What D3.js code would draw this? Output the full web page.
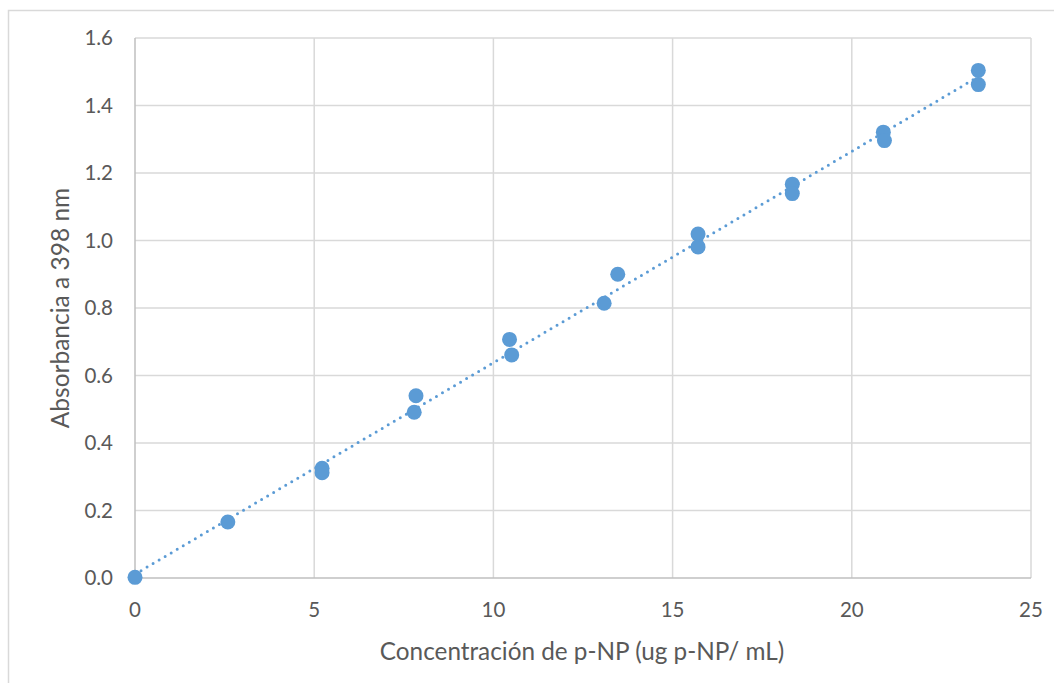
<!DOCTYPE html>
<html><head><meta charset="utf-8">
<script src="https://cdn.jsdelivr.net/npm/d3@7"></script>
<style>
html,body{margin:0;padding:0;background:#fff;}
svg{display:block;}
text{font-family:"Lato","Open Sans",sans-serif;fill:#595959;}
</style></head>
<body>
<svg id="c" width="1054" height="683"></svg>
<script>
const concentrations = [0, 2.59, 5.22, 5.22, 7.84, 7.79, 10.45, 10.51, 13.09, 13.47, 15.71, 15.71, 18.34, 18.34, 20.88, 20.91, 23.53, 23.53];
const absorbance =     [0.002, 0.166, 0.325, 0.312, 0.540, 0.491, 0.707, 0.661, 0.814, 0.900, 1.019, 0.981, 1.167, 1.139, 1.321, 1.296, 1.504, 1.462];
const xTicks = [0, 5, 10, 15, 20, 25];
const yTicks = [0, 0.2, 0.4, 0.6, 0.8, 1.0, 1.2, 1.4, 1.6];
const xTitle = "Concentración de p-NP (ug p-NP/ mL)";
const yTitle = "Absorbancia a 398 nm";

const svg = d3.select("#c");
const m = {left:135, right:1031, top:38, bottom:578};
const x = d3.scaleLinear().domain([0,25]).range([m.left, m.right]);
const y = d3.scaleLinear().domain([0,1.6]).range([m.bottom, m.top]);

// outer chart border
svg.append("rect").attr("x",8.5).attr("y",10.5).attr("width",1060).attr("height",700)
  .attr("fill","none").attr("stroke","#d9d9d9").attr("stroke-width",1.5);

// gridlines
const g = svg.append("g");
g.selectAll(".hg").data(yTicks.slice(1)).join("line")
  .attr("x1",m.left).attr("x2",m.right).attr("y1",d=>y(d)).attr("y2",d=>y(d))
  .attr("stroke","#d9d9d9").attr("stroke-width",1.5);
g.selectAll(".vg").data(xTicks.slice(1)).join("line")
  .attr("y1",m.top).attr("y2",m.bottom).attr("x1",d=>x(d)).attr("x2",d=>x(d))
  .attr("stroke","#d9d9d9").attr("stroke-width",1.5);
// axes lines
g.append("line").attr("x1",m.left).attr("x2",m.right).attr("y1",y(0)).attr("y2",y(0))
  .attr("stroke","#bfbfbf").attr("stroke-width",1.5);
g.append("line").attr("x1",x(0)).attr("x2",x(0)).attr("y1",m.top).attr("y2",m.bottom)
  .attr("stroke","#bfbfbf").attr("stroke-width",1.5);

// tick labels
svg.selectAll(".yt").data(yTicks).join("text")
  .attr("x",113).attr("y",d=>y(d)+7).attr("text-anchor","end")
  .attr("font-size",20.5).text(d=>d.toFixed(1));
svg.selectAll(".xt").data(xTicks).join("text")
  .attr("x",d=>x(d)).attr("y",617).attr("text-anchor","middle")
  .attr("font-size",20.5).text(d=>d);

// titles
svg.append("text").attr("x",(m.left+m.right)/2 - 1).attr("y",660).attr("text-anchor","middle")
  .attr("font-size",24.3).text(xTitle);
svg.append("text").attr("transform",`translate(69,${(m.top+m.bottom)/2}) rotate(-90)`)
  .attr("text-anchor","middle").attr("font-size",24.5).text(yTitle);

// linear trendline from data
const n = concentrations.length;
const mx = d3.mean(concentrations), my = d3.mean(absorbance);
let sxy=0, sxx=0;
for(let i=0;i<n;i++){ sxy+=(concentrations[i]-mx)*(absorbance[i]-my); sxx+=(concentrations[i]-mx)**2; }
const slope = sxy/sxx, icpt = my - slope*mx;
const x0 = d3.min(concentrations), x1 = d3.max(concentrations);
svg.append("line").attr("x1",x(x0)).attr("y1",y(icpt+slope*x0))
  .attr("x2",x(x1)).attr("y2",y(icpt+slope*x1))
  .attr("stroke","#5b9bd5").attr("stroke-width",3).attr("stroke-linecap","round")
  .attr("stroke-dasharray","0,7");

// points
svg.selectAll(".pt").data(concentrations.map((c,i)=>[c,absorbance[i]])).join("circle")
  .attr("cx",d=>x(d[0])).attr("cy",d=>y(d[1])).attr("r",7.5).attr("fill","#5b9bd5");
</script>
</body></html>
